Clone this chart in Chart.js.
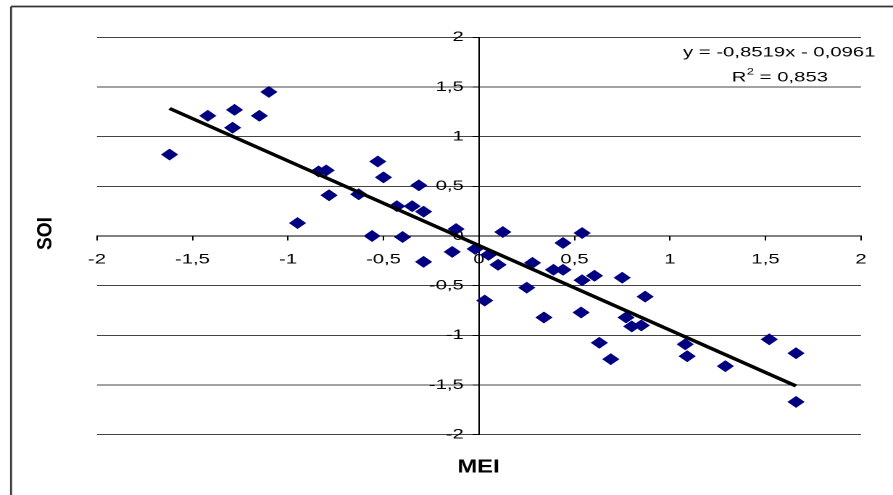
<!DOCTYPE html>
<html>
<head>
<meta charset="utf-8">
<script src="https://cdn.jsdelivr.net/npm/chart.js@4"></script>
<style>
  html, body { margin: 0; padding: 0; background: #fff; overflow: hidden; }
  #wrap { position: absolute; left: 0; top: 0; width: 616px; height: 495px; transform: scaleX(1.44968); transform-origin: 0 0; }
  canvas { display: block; }
</style>
</head>
<body>
<div id="wrap"><canvas id="c" width="616" height="495"></canvas></div>
<script>
// ---- data ----
const meiValues = [-1.62,-1.42,-1.28,-1.29,-1.15,-1.10,-0.84,-0.80,-0.785,-0.95,-0.63,-0.53,-0.50,-0.315,-0.43,-0.35,-0.29,-0.56,-0.40,-0.29,-0.12,-0.14,-0.02,0.05,0.10,0.125,0.03,0.28,0.25,0.34,0.39,0.44,0.44,0.54,0.54,0.605,0.535,0.75,0.87,0.77,0.80,0.85,0.63,0.69,1.08,1.09,1.29,1.52,1.66,1.66];
const soiValues = [0.82,1.21,1.27,1.09,1.21,1.45,0.65,0.66,0.41,0.13,0.42,0.75,0.59,0.51,0.30,0.30,0.245,0.0,-0.01,-0.26,0.07,-0.16,-0.13,-0.19,-0.29,0.04,-0.65,-0.27,-0.52,-0.82,-0.34,-0.34,-0.07,0.03,-0.445,-0.40,-0.77,-0.42,-0.61,-0.82,-0.91,-0.90,-1.075,-1.24,-1.09,-1.21,-1.31,-1.04,-1.18,-1.67];
const trendX = [-1.62, 1.66];
const trendY = [1.284, -1.51];
const xTickLabels = ['-2','-1,5','-1','-0,5','0','0,5','1','1,5','2'];
const yTickLabels = ['-2','-1,5','-1','-0,5','0','0,5','1','1,5','2'];
const xTitle = 'MEI';
const yTitle = 'SOI';
const eqLine = 'y = -0,8519x - 0,0961';
const r2Value = '0,853';

const points = meiValues.map((x, i) => ({x: x, y: soiValues[i]}));
const trend = trendX.map((x, i) => ({x: x, y: trendY[i]}));

const FONT = '"Liberation Sans", Arial, sans-serif';

// push the y tick labels away from the (centred) y axis, as in the reference
const yLabelGap = {
  id: 'yLabelGap',
  beforeDraw(chart) {
    const s = chart.scales.y;
    if (!s || typeof s.getLabelItems !== 'function') return;
    const items = s.getLabelItems();
    if (items._shifted) return;
    items.forEach(it => { if (it.options && it.options.translation) it.options.translation[0] -= 10.5; });
    items._shifted = true;
  }
};

const decor = {
  id: 'decor',
  afterDraw(chart) {
    const ctx = chart.ctx;
    ctx.save();
    // outer frame
    ctx.strokeStyle = '#333';
    ctx.lineWidth = 1.7;
    ctx.beginPath(); ctx.moveTo(7.6, 6.5); ctx.lineTo(640, 6.5); ctx.stroke();
    ctx.lineWidth = 1.3;
    ctx.beginPath(); ctx.moveTo(7.6, 6.5); ctx.lineTo(7.6, 520); ctx.stroke();

    ctx.fillStyle = '#000';
    // equation
    ctx.font = '14px ' + FONT;
    ctx.textBaseline = 'alphabetic';
    ctx.textAlign = 'center';
    ctx.fillText(eqLine, 537.5, 56.5);
    // R^2 line
    ctx.textAlign = 'left';
    const big = '14px ' + FONT, small = '9px ' + FONT;
    ctx.font = big; const wR = ctx.measureText('R').width;
    ctx.font = small; const w2 = ctx.measureText('2').width;
    ctx.font = big; const wRest = ctx.measureText(' = ' + r2Value).width;
    let x0 = 537.8 - (wR + w2 + wRest) / 2;
    ctx.font = big; ctx.fillText('R', x0, 81.5);
    ctx.font = small; ctx.fillText('2', x0 + wR + 0.3, 74.5);
    ctx.font = big; ctx.fillText(' = ' + r2Value, x0 + wR + w2 + 0.3, 81.5);

    // x title
    ctx.save();
    ctx.font = 'bold 18.5px ' + FONT;
    ctx.textAlign = 'center';
    ctx.translate(330.1, 472.7);
    ctx.scale(0.89, 1);
    ctx.fillText(xTitle, 0, 0);
    ctx.restore();

    // y title
    ctx.save();
    ctx.font = 'bold 14.5px ' + FONT;
    ctx.textAlign = 'center';
    ctx.textBaseline = 'middle';
    ctx.translate(31.5, 233.5);
    ctx.rotate(-Math.PI / 2);
    ctx.scale(1.32, 1);
    ctx.fillText(yTitle, 0, 0);
    ctx.restore();

    ctx.restore();
  }
};

new Chart(document.getElementById('c'), {
  type: 'scatter',
  data: {
    datasets: [
      {
        type: 'line',
        label: 'trend',
        data: trend,
        borderColor: '#000',
        borderWidth: 3.2,
        pointRadius: 0,
        fill: false,
        showLine: true,
        tension: 0
      },
      {
        label: 'SOI vs MEI',
        data: points,
        pointStyle: 'rectRot',
        pointRadius: 5.7,
        pointBackgroundColor: '#000080',
        pointBorderColor: '#000080',
        pointBorderWidth: 0.5,
        backgroundColor: '#000080',
        borderColor: '#000080'
      }
    ]
  },
  options: {
    responsive: false,
    animation: false,
    devicePixelRatio: 2,
    layout: { padding: { left: 66.9, right: 22.1, top: 37.3, bottom: 60.3 } },
    plugins: { legend: { display: false }, tooltip: { enabled: false } },
    events: [],
    scales: {
      x: {
        type: 'linear',
        min: -2, max: 2,
        position: { y: 0 },
        ticks: {
          stepSize: 0.5,
          autoSkip: false,
          maxRotation: 0,
          color: '#000',
          font: { family: FONT, size: 14 },
          padding: 11,
          callback: (v, i) => xTickLabels[i]
        },
        grid: { drawOnChartArea: false, drawTicks: true, tickLength: 4, color: '#000', tickColor: '#000', lineWidth: 1 },
        border: { display: true, color: '#000', width: 1 }
      },
      y: {
        type: 'linear',
        min: -2, max: 2,
        position: { x: 0 },
        ticks: {
          stepSize: 0.5,
          autoSkip: false,
          color: '#000',
          font: { family: FONT, size: 14 },
          padding: 7.5,
          callback: (v, i) => yTickLabels[i]
        },
        grid: { drawOnChartArea: true, drawTicks: true, tickLength: 4, color: '#444', tickColor: '#000', lineWidth: 1 },
        border: { display: true, color: '#000', width: 1 }
      }
    }
  },
  plugins: [yLabelGap, decor]
});
</script>
</body>
</html>
